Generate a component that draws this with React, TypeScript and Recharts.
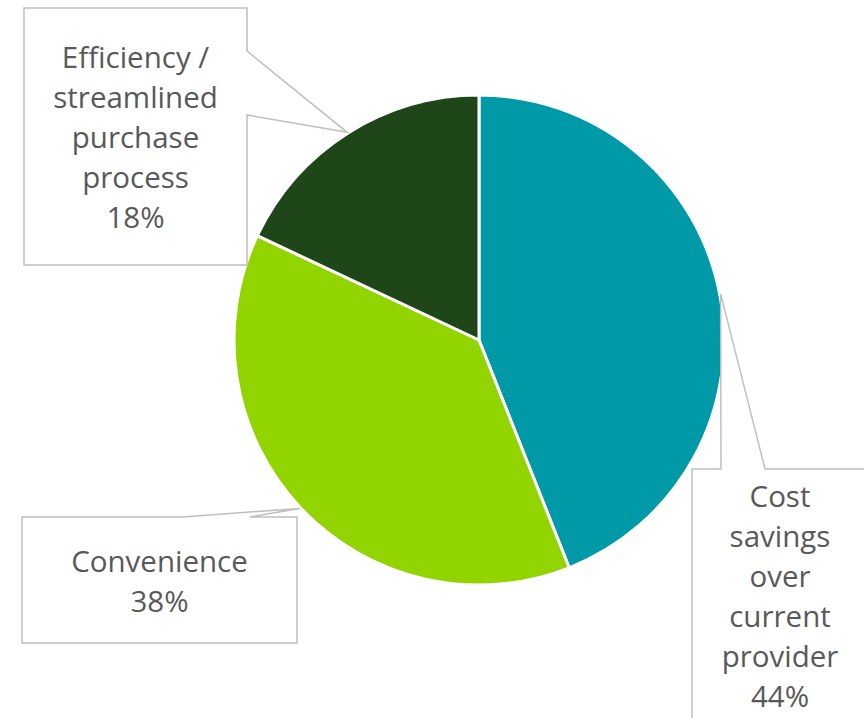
import React from "react";
import { PieChart, Pie, Cell } from "recharts";

const categories = ["Cost savings over current provider", "Convenience", "Efficiency / streamlined purchase process"];
const values = [44, 38, 18];
const labelLines = [
  ["Cost", "savings", "over", "current", "provider"],
  ["Convenience"],
  ["Efficiency /", "streamlined", "purchase", "process"],
];
const colors = ["#0099A8", "#92D400", "#1E4619"];

const data = categories.map((name, i) => ({ name, value: values[i] }));

// callout box layout: box rect, pointer base points, text centre x and first baseline
const callouts = [
  { x: 692, y: 469, w: 180, h: 260, side: "top", b1: 721, b2: 765, tx: 780, ty: 507 },
  { x: 22, y: 517, w: 275, h: 126, side: "top", b1: 183, b2: 250, tx: 159.5, ty: 572 },
  { x: 24, y: 8, w: 223, h: 257, side: "right", b1: 51, b2: 115, tx: 135.5, ty: 68 },
];

const RAD = Math.PI / 180;

const renderLabel = (props: any) => {
  const { cx, cy, midAngle, outerRadius, index, value } = props;
  const c = callouts[index];
  const tipX = cx + (outerRadius + 1) * Math.cos(-midAngle * RAD);
  const tipY = cy + (outerRadius + 1) * Math.sin(-midAngle * RAD);
  const r = c.x + c.w;
  const b = c.y + c.h;
  let d = "";
  if (c.side === "top") {
    d = `M${c.x},${c.y} L${c.b1},${c.y} L${tipX},${tipY} L${c.b2},${c.y} L${r},${c.y} L${r},${b} L${c.x},${b} Z`;
  } else {
    d = `M${c.x},${c.y} L${r},${c.y} L${r},${c.b1} L${tipX},${tipY} L${r},${c.b2} L${r},${b} L${c.x},${b} Z`;
  }
  const lines = [...labelLines[index], `${value}%`];
  return (
    <g key={`callout-${index}`}>
      <path d={d} fill="#ffffff" stroke="#BFBFBF" strokeWidth={1.5} />
      <text
        x={c.tx}
        y={c.ty}
        textAnchor="middle"
        fontFamily="'Open Sans', sans-serif"
        fontSize={29.5}
        fill="#595959"
      >
        {lines.map((ln, i) => (
          <tspan key={i} x={c.tx} y={c.ty + i * 40}>
            {ln}
          </tspan>
        ))}
      </text>
    </g>
  );
};

export default function App() {
  return (
    <div style={{ position: "absolute", left: 0, top: 0, width: 864, height: 718, background: "#fff" }}>
      <PieChart width={864} height={718} margin={{ top: 0, right: 0, bottom: 0, left: 0 }}>
        <Pie
          data={data}
          dataKey="value"
          nameKey="name"
          cx={479}
          cy={340}
          outerRadius={245}
          startAngle={90}
          endAngle={-270}
          stroke="#ffffff"
          strokeWidth={3}
          label={renderLabel}
          labelLine={false}
          isAnimationActive={false}
        >
          {data.map((d, i) => (
            <Cell key={d.name} fill={colors[i]} />
          ))}
        </Pie>
      </PieChart>
    </div>
  );
}
